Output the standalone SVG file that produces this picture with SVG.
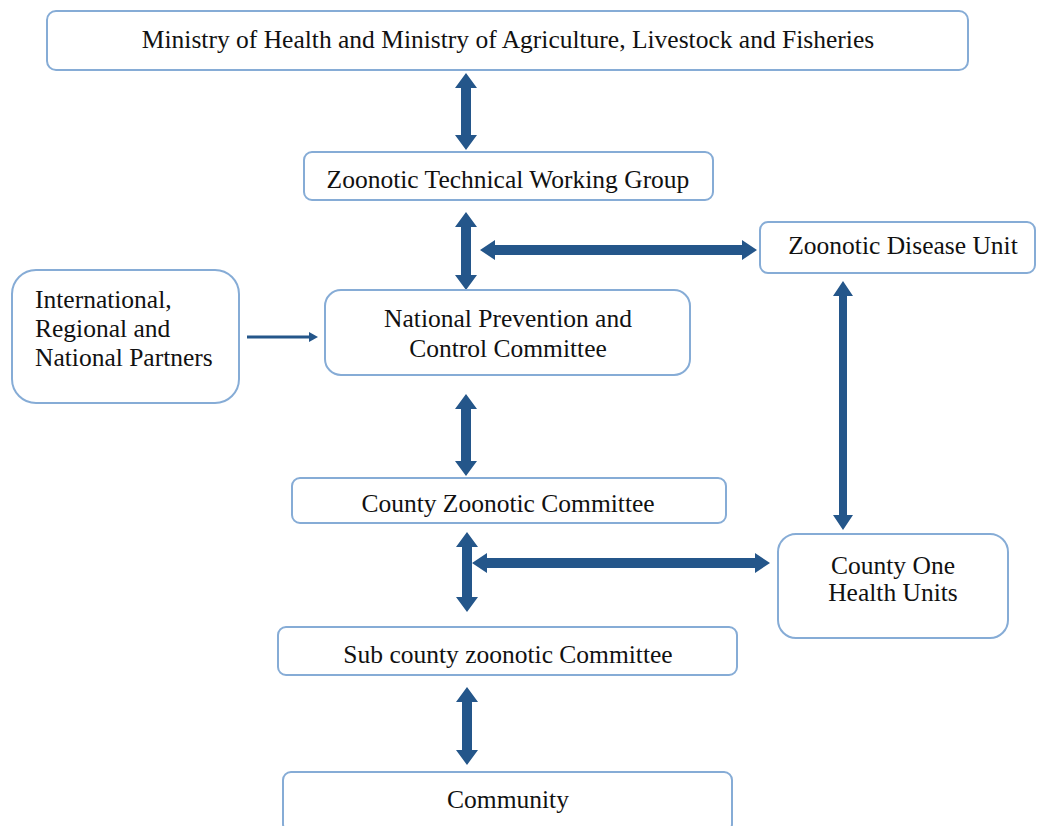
<svg xmlns="http://www.w3.org/2000/svg" width="1040" height="826" viewBox="0 0 1040 826">
  <style>
    .box { fill: #ffffff; stroke: #86acd6; stroke-width: 2; }
    .lbl { font-family: "Liberation Serif", "Times New Roman", serif; font-size: 25.5px; fill: #111111; }
    .mid { text-anchor: middle; }
    .arw { fill: #24568a; }
  </style>
  <rect width="1040" height="826" fill="#ffffff"/>

  <!-- connectors -->
  <g id="connectors">
    <!-- Ministry <-> ZTWG -->
    <polygon class="arw" points="466,73 477,88 471,88 471,135 477,135 466,150 455,135 461,135 461,88 455,88"/>
    <!-- ZTWG <-> NPCC -->
    <polygon class="arw" points="466,212 477,227 471,227 471,275 477,275 466,290 455,275 461,275 461,227 455,227"/>
    <!-- to Zoonotic Disease Unit -->
    <polygon class="arw" points="480,250 495,240 495,245 742,245 742,240 757,250 742,260 742,255 495,255 495,260"/>
    <!-- Partners -> NPCC -->
    <line x1="247" y1="337" x2="310" y2="337" stroke="#24568a" stroke-width="3"/>
    <polygon class="arw" points="318,337 309,332 309,342"/>
    <!-- NPCC <-> County Zoonotic Committee -->
    <polygon class="arw" points="466,394 477,409 471,409 471,461 477,461 466,476 455,461 461,461 461,409 455,409"/>
    <!-- ZDU <-> County One Health Units -->
    <polygon class="arw" points="843,281 853,296 847,296 847,515 853,515 843,530 833,515 839,515 839,296 833,296"/>
    <!-- County Zoonotic <-> Sub county -->
    <polygon class="arw" points="467,532 478,547 472,547 472,597 478,597 467,612 456,597 462,597 462,547 456,547"/>
    <!-- to County One Health Units -->
    <polygon class="arw" points="472,563 487,553 487,558 755,558 755,553 770,563 755,573 755,568 487,568 487,573"/>
    <!-- Sub county <-> Community -->
    <polygon class="arw" points="467,687 478,702 472,702 472,750 478,750 467,765 456,750 462,750 462,702 456,702"/>
  </g>

  <g id="ministry">
    <rect class="box" x="47" y="11" width="921" height="59" rx="9"/>
    <text class="lbl mid" x="508" y="48">Ministry of Health and Ministry of Agriculture, Livestock and Fisheries</text>
  </g>

  <g id="ztwg">
    <rect class="box" x="304" y="152" width="409" height="48" rx="8"/>
    <text class="lbl mid" x="508" y="188">Zoonotic Technical Working Group</text>
  </g>

  <g id="zdu">
    <rect class="box" x="760" y="222" width="275" height="51" rx="8"/>
    <text class="lbl mid" x="903" y="254">Zoonotic Disease Unit</text>
  </g>

  <g id="partners">
    <rect class="box" x="12" y="270" width="227" height="133" rx="24"/>
    <text class="lbl" x="35" y="308">International,</text>
    <text class="lbl" x="35" y="337">Regional and</text>
    <text class="lbl" x="35" y="366">National Partners</text>
  </g>

  <g id="npcc">
    <rect class="box" x="325" y="290" width="365" height="85" rx="16"/>
    <text class="lbl mid" x="508" y="327">National Prevention and</text>
    <text class="lbl mid" x="508" y="357">Control Committee</text>
  </g>

  <g id="county-zoonotic">
    <rect class="box" x="292" y="478" width="434" height="45" rx="8"/>
    <text class="lbl mid" x="508" y="512">County Zoonotic Committee</text>
  </g>

  <g id="county-one-health">
    <rect class="box" x="778" y="534" width="230" height="104" rx="18"/>
    <text class="lbl mid" x="893" y="574">County One</text>
    <text class="lbl mid" x="893" y="601">Health Units</text>
  </g>

  <g id="sub-county">
    <rect class="box" x="278" y="627" width="459" height="48" rx="8"/>
    <text class="lbl mid" x="508" y="663">Sub county zoonotic Committee</text>
  </g>

  <g id="community">
    <rect class="box" x="283" y="772" width="449" height="60" rx="8"/>
    <text class="lbl mid" x="508" y="808">Community</text>
  </g>
</svg>
